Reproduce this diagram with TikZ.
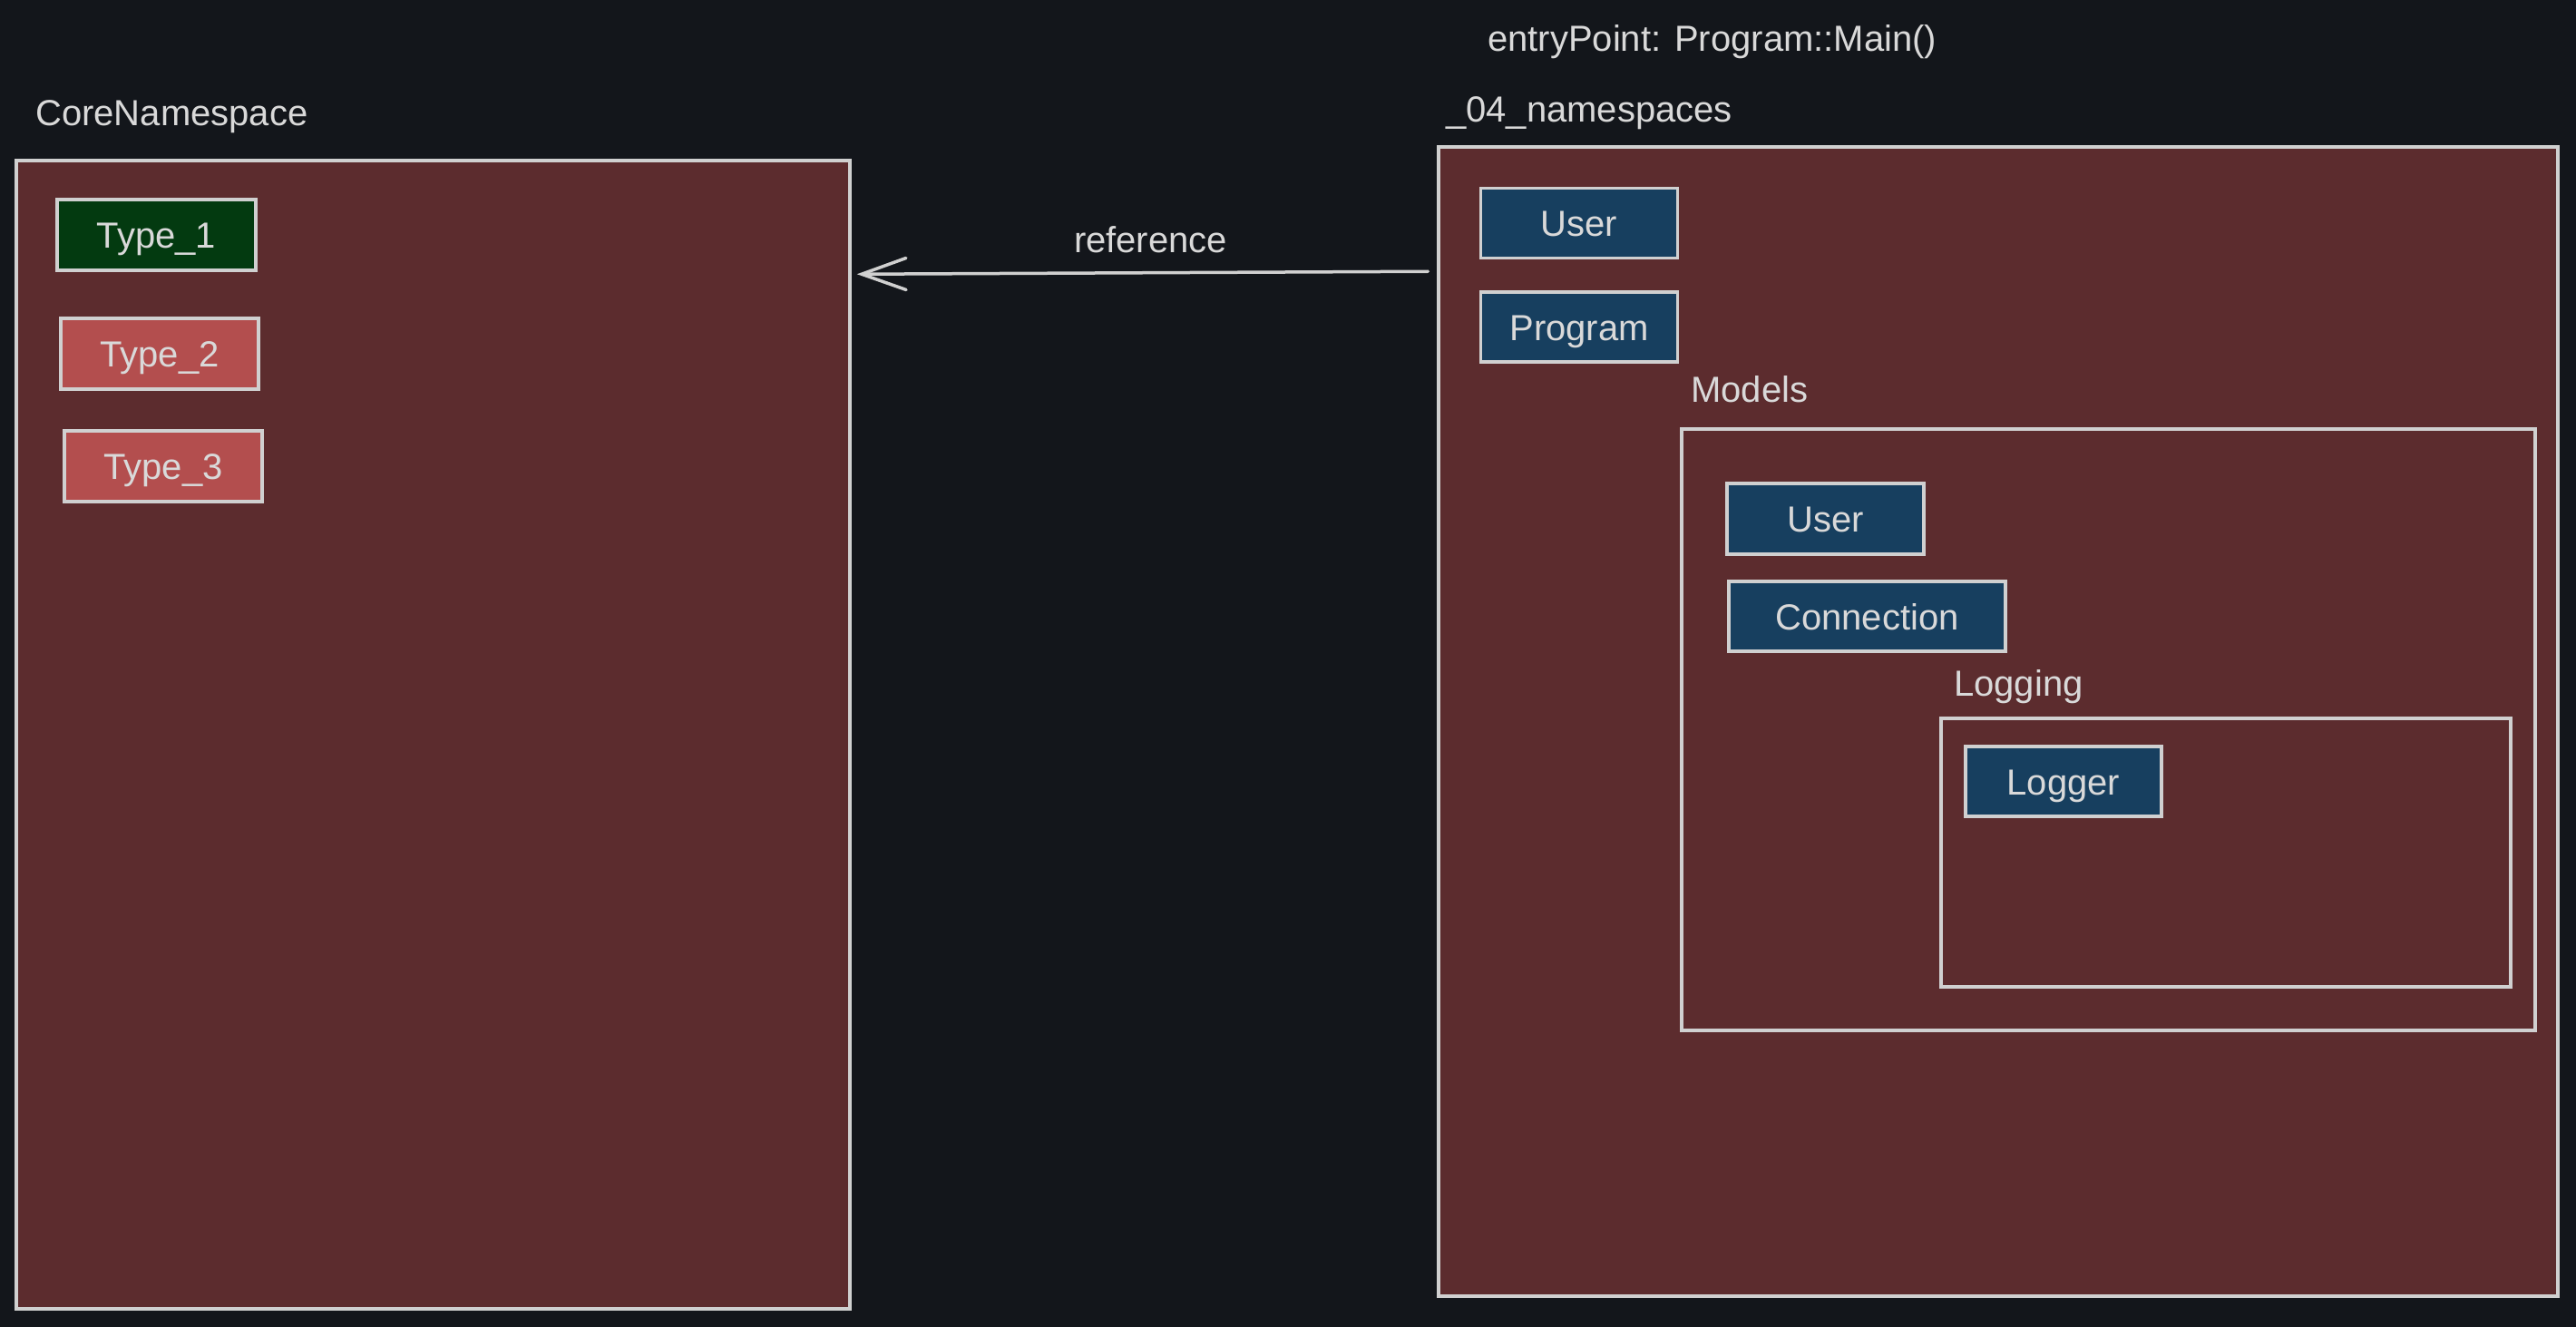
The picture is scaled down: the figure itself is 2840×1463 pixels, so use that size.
\documentclass[tikz,border=0pt]{standalone}
\usepackage{fontspec}
\setmainfont{Liberation Sans}
\usetikzlibrary{arrows.meta}
\definecolor{bgc}{HTML}{13161B}
\definecolor{nsfill}{HTML}{5C2C2E}
\definecolor{bluefill}{HTML}{173F5F}
\definecolor{greenfill}{HTML}{033A10}
\definecolor{redfill}{HTML}{B34E4E}
\definecolor{edgec}{HTML}{D0D0D0}
\definecolor{txtc}{HTML}{D9D9D9}
\tikzset{
  boxbase/.style={draw=edgec, line width=3.5pt, rectangle, inner sep=0pt, text=txtc,
    font=\fontsize{40}{48}\selectfont, text height=29pt, text depth=0pt},
  container/.style={boxbase, fill=nsfill},
  typebox/.style={boxbase},
  lbl/.style={anchor=base west, inner sep=0pt, text=txtc, font=\fontsize{40}{48}\selectfont},
  reflink/.style={draw=edgec, line width=3.5pt, line cap=round,
    -{Straight Barb[length=49pt,width=35pt,line width=3.5pt,line cap=round]}}
}
\begin{document}
\begin{tikzpicture}[x=1pt,y=-1pt]
\path[fill=bgc,use as bounding box] (0,0) rectangle (2840,1463);

% left namespace
\node[lbl] (corelbl) at (39,139) {CoreNamespace};
\node[container, minimum width=919pt, minimum height=1266pt] (core) at (477.5,810) {};
\node[typebox, fill=greenfill, minimum width=219pt, minimum height=78pt] (t1) at (172.5,259) {Type\_1};
\node[typebox, fill=redfill, minimum width=218pt, minimum height=78pt] (t2) at (176,390) {Type\_2};
\node[typebox, fill=redfill, minimum width=218pt, minimum height=78pt] (t3) at (180,514) {Type\_3};

% right namespace
\node[lbl] (entry) at (1640,57) {entryPoint: Program::Main()};
\node[lbl] (nslbl) at (1594,135) {\_04\_namespaces};
\node[container, minimum width=1234pt, minimum height=1267pt] (ns) at (2203,795.5) {};
\node[typebox, fill=bluefill, minimum width=217pt, minimum height=77pt] (user) at (1741,246) {User};
\node[typebox, fill=bluefill, minimum width=217pt, minimum height=77pt] (program) at (1741,360.5) {Program};

\node[lbl] (modelslbl) at (1864,443) {Models};
\node[container, minimum width=941pt, minimum height=663pt] (models) at (2324.5,804.5) {};
\node[typebox, fill=bluefill, minimum width=217pt, minimum height=78pt] (muser) at (2012.5,572) {User};
\node[typebox, fill=bluefill, minimum width=305pt, minimum height=77pt] (conn) at (2058.5,679.5) {Connection};

\node[lbl] (logginglbl) at (2154,767) {Logging};
\node[container, minimum width=628pt, minimum height=296pt] (logging) at (2454,940) {};
\node[typebox, fill=bluefill, minimum width=216pt, minimum height=77pt] (logger) at (2275,861.5) {Logger};

% reference connector
\path (ns.north west) ++(-10,139) coordinate (refstart);
\path (core.north east) ++(6,127) coordinate (refend);
\draw[reflink] (refstart) -- node[midway, anchor=base, yshift=22pt, xshift=9pt, inner sep=0pt, text=txtc, font=\fontsize{40}{48}\selectfont] (reflbl) {reference} (refend);
\end{tikzpicture}
\end{document}
